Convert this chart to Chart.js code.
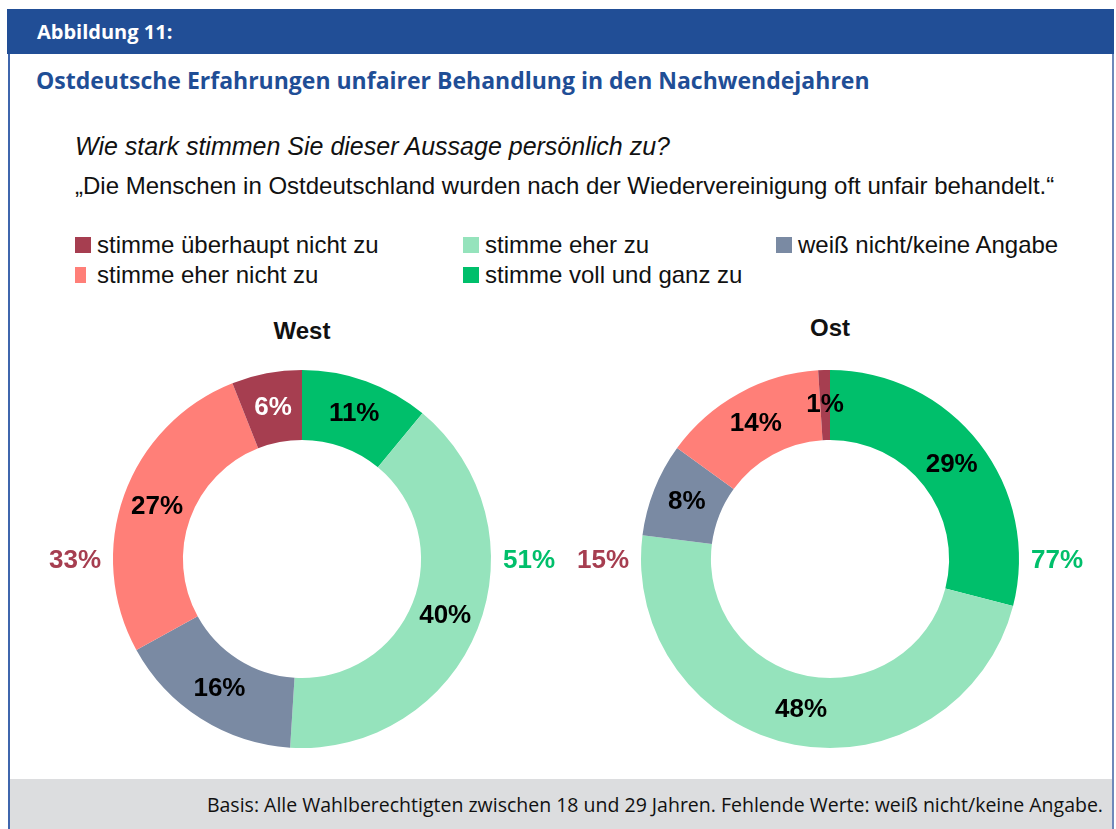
<!DOCTYPE html>
<html>
<head>
<meta charset="utf-8">
<script src="https://cdn.jsdelivr.net/npm/chart.js@4/dist/chart.umd.min.js"></script>
<style>
  body { margin: 0; background: #fff; width: 1116px; height: 829px; position: relative; overflow: hidden; font-family: "Liberation Sans", Arial, sans-serif; }
  #frame { position: absolute; left: 8px; top: 9px; width: 1102px; height: 830px; border-left: 2px solid #3f66ad; border-right: 2px solid #6f88ba; }
  #head { position: absolute; left: 7px; top: 9px; width: 1107px; height: 45px; background: #214e96; color: #fff; font-family: "Open Sans", sans-serif; font-weight: bold; font-size: 20px; line-height: 45px; }
  #head span { position: absolute; left: 30px; }
  #title { position: absolute; left: 36px; top: 64px; font-family: "Open Sans", sans-serif; font-weight: bold; font-size: 23px; color: #1f4e96; white-space: nowrap; }
  .txt { position: absolute; left: 75px; color: #111; white-space: nowrap; line-height: 1; }
  #q { top: 134px; font-size: 25px; font-style: italic; }
  #s { top: 174px; font-size: 24px; }
  .leg { position: absolute; font-size: 24px; color: #111; white-space: nowrap; line-height: 24px; }
  .leg i { position: absolute; left: 0; top: 4px; width: 16px; height: 16px; }
  .leg b { font-weight: normal; position: absolute; left: 22px; top: 0; }
  .ct { position: absolute; font-weight: bold; font-size: 24px; color: #111; transform: translateX(-50%); }
  canvas { position: absolute; }
  #foot { position: absolute; left: 10px; top: 779px; width: 1102px; height: 50px; background: #dcdddf; }
  #foot span { position: absolute; right: 9px; top: 12px; font-family: "Open Sans", sans-serif; font-size: 19.5px; color: #111; white-space: nowrap; }
</style>
</head>
<body>
<div id="frame"></div>
<div id="head"><span>Abbildung 11:</span></div>
<div id="title">Ostdeutsche Erfahrungen unfairer Behandlung in den Nachwendejahren</div>
<div class="txt" id="q">Wie stark stimmen Sie dieser Aussage persönlich zu?</div>
<div class="txt" id="s">„Die Menschen in Ostdeutschland wurden nach der Wiedervereinigung oft unfair behandelt.“</div>
<div id="legend"></div>
<div class="ct" style="left:302px;top:317px">West</div>
<div class="ct" style="left:830px;top:314px">Ost</div>
<canvas id="west" width="520" height="400" style="left:42px;top:359px"></canvas>
<canvas id="ost" width="520" height="400" style="left:570px;top:359px"></canvas>
<div id="foot"><span>Basis: Alle Wahlberechtigten zwischen 18 und 29 Jahren. Fehlende Werte: weiß nicht/keine Angabe.</span></div>
<script>
// categories in drawing order (clockwise from top)
const categories = ['stimme voll und ganz zu', 'stimme eher zu', 'weiß nicht/keine Angabe', 'stimme eher nicht zu', 'stimme überhaupt nicht zu'];
const colors = ['#00bf6b', '#95e3bc', '#7a8aa3', '#ff7f78', '#a63e50'];
const westValues = [11, 40, 16, 27, 6];
const ostValues = [29, 48, 8, 14, 1];
// which slices add up to the side totals
const agreeIdx = [0, 1];
const disagreeIdx = [3, 4];

// legend layout: [category index, left, top]
const legendPos = [[4, 75, 233], [3, 75, 263], [1, 463, 233], [0, 463, 263], [2, 776, 233]];
const legendEl = document.getElementById('legend');
legendPos.forEach(function (p) {
  const d = document.createElement('div');
  d.className = 'leg';
  d.style.left = p[1] + 'px';
  d.style.top = p[2] + 'px';
  d.innerHTML = '<i style="background:' + colors[p[0]] + (p[0] === 3 ? ';width:11px' : '') + '"></i><b>' + categories[p[0]] + '</b>';
  legendEl.appendChild(d);
});

const labelPlugin = {
  id: 'labels',
  afterDatasetsDraw(chart) {
    const ctx = chart.ctx;
    const meta = chart.getDatasetMeta(0);
    const vals = chart.data.datasets[0].data;
    ctx.save();
    ctx.font = 'bold 26px "Liberation Sans", Arial, sans-serif';
    ctx.textAlign = 'center';
    ctx.textBaseline = 'middle';
    meta.data.forEach(function (arc, i) {
      const pos = arc.tooltipPosition();
      ctx.fillStyle = i === 4 && vals[i] > 3 ? '#fff' : '#000';
      ctx.fillText(vals[i] + '%', pos.x, pos.y);
    });
    const a = meta.data[0];
    const r = a.outerRadius + 38;
    const agree = agreeIdx.reduce(function (s, i) { return s + vals[i]; }, 0);
    const dis = disagreeIdx.reduce(function (s, i) { return s + vals[i]; }, 0);
    ctx.fillStyle = '#00bf6b';
    ctx.fillText(agree + '%', a.x + r, a.y + 2);
    ctx.fillStyle = '#a63e50';
    ctx.fillText(dis + '%', a.x - r, a.y + 2);
    ctx.restore();
  }
};

function makeChart(id, values) {
  return new Chart(document.getElementById(id), {
    type: 'doughnut',
    data: {
      labels: categories,
      datasets: [{ data: values, backgroundColor: colors, borderWidth: 0 }]
    },
    options: {
      responsive: false,
      animation: false,
      radius: 189,
      cutout: 126,
      plugins: { legend: { display: false }, tooltip: { enabled: false } }
    },
    plugins: [labelPlugin]
  });
}
makeChart('west', westValues);
makeChart('ost', ostValues);
</script>
</body>
</html>
